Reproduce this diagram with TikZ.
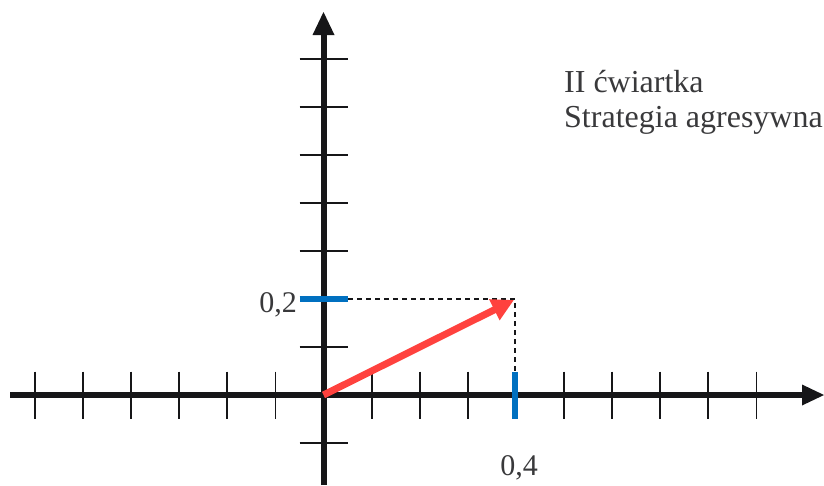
\documentclass[tikz,border=0pt]{standalone}
\usepackage{fontspec}
\setmainfont{Liberation Serif}
\usetikzlibrary{arrows.meta}
\definecolor{axisblk}{RGB}{22,22,24}
\definecolor{vecred}{RGB}{255,66,62}
\definecolor{markblue}{RGB}{0,112,192}
\begin{document}
\begin{tikzpicture}[x=1pt,y=-1pt,
  axisline/.style={line width=6pt,draw=axisblk},
  axishead/.style={fill=axisblk},
  tickline/.style={line width=1.8pt,draw=axisblk},
  bluebar/.style={line width=6.5pt,draw=markblue},
  guide/.style={line width=1.1pt,draw=axisblk,dash pattern=on 5pt off 4pt},
  vec/.style={line width=7pt,draw=vecred,-{Triangle[length=22pt,width=22pt]}},
  lbl/.style={font=\fontsize{30}{36}\selectfont,inner sep=0pt,text=axisblk!85},
  ttl/.style={font=\fontsize{32}{38}\selectfont,inner sep=0pt,text=axisblk!85}]
\useasboundingbox (0,0) rectangle (824,485);
\coordinate (O) at (323.5,395);
\coordinate (xL) at (10,395);
\coordinate (xB) at (802,395);
\coordinate (xR) at (824,395);
\coordinate (yB) at (323.5,485);
\coordinate (yH) at (323.5,35);
\coordinate (yT) at (323.5,12);
\coordinate (P) at (515,299);
\coordinate (Px) at (515,372);
\coordinate (Py) at (348,299);
% axes
\draw[axisline] (xL) -- (xB);
\fill[axishead] (xR) -- ([yshift=-10.5pt]xB) -- ([yshift=10.5pt]xB) -- cycle;
\draw[axisline] (yB) -- (yH);
\fill[axishead] (yT) -- ([xshift=-11pt]yH) -- ([xshift=11pt]yH) -- cycle;
% ticks
\foreach \i in {-6,-5,-4,-3,-2,-1,1,2,3,5,6,7,8,9}
  \draw[tickline] ({323.5+48.1*\i},371.5) -- ++(0,47);
\foreach \j in {-1,1,3,4,5,6,7}
  \draw[tickline] (299.5,{395-48*\j}) -- ++(48.5,0);
% blue markers
\draw[bluebar] (299.5,299) -- (Py);
\draw[bluebar] (Px) -- (515,419);
% guides
\draw[guide] (Py) -- (P) -- (Px);
% vector
\draw[vec] (O) -- (514,300);
% labels
\node[lbl,anchor=base east] (l02) at (297,312) {0,2};
\node[lbl,anchor=base] (l04) at (519,475) {0,4};
\node[ttl,anchor=base west] (t1) at (564,92) {II ćwiartka};
\node[ttl,anchor=base west] (t2) at (564,127) {Strategia agresywna};
\end{tikzpicture}
\end{document}
